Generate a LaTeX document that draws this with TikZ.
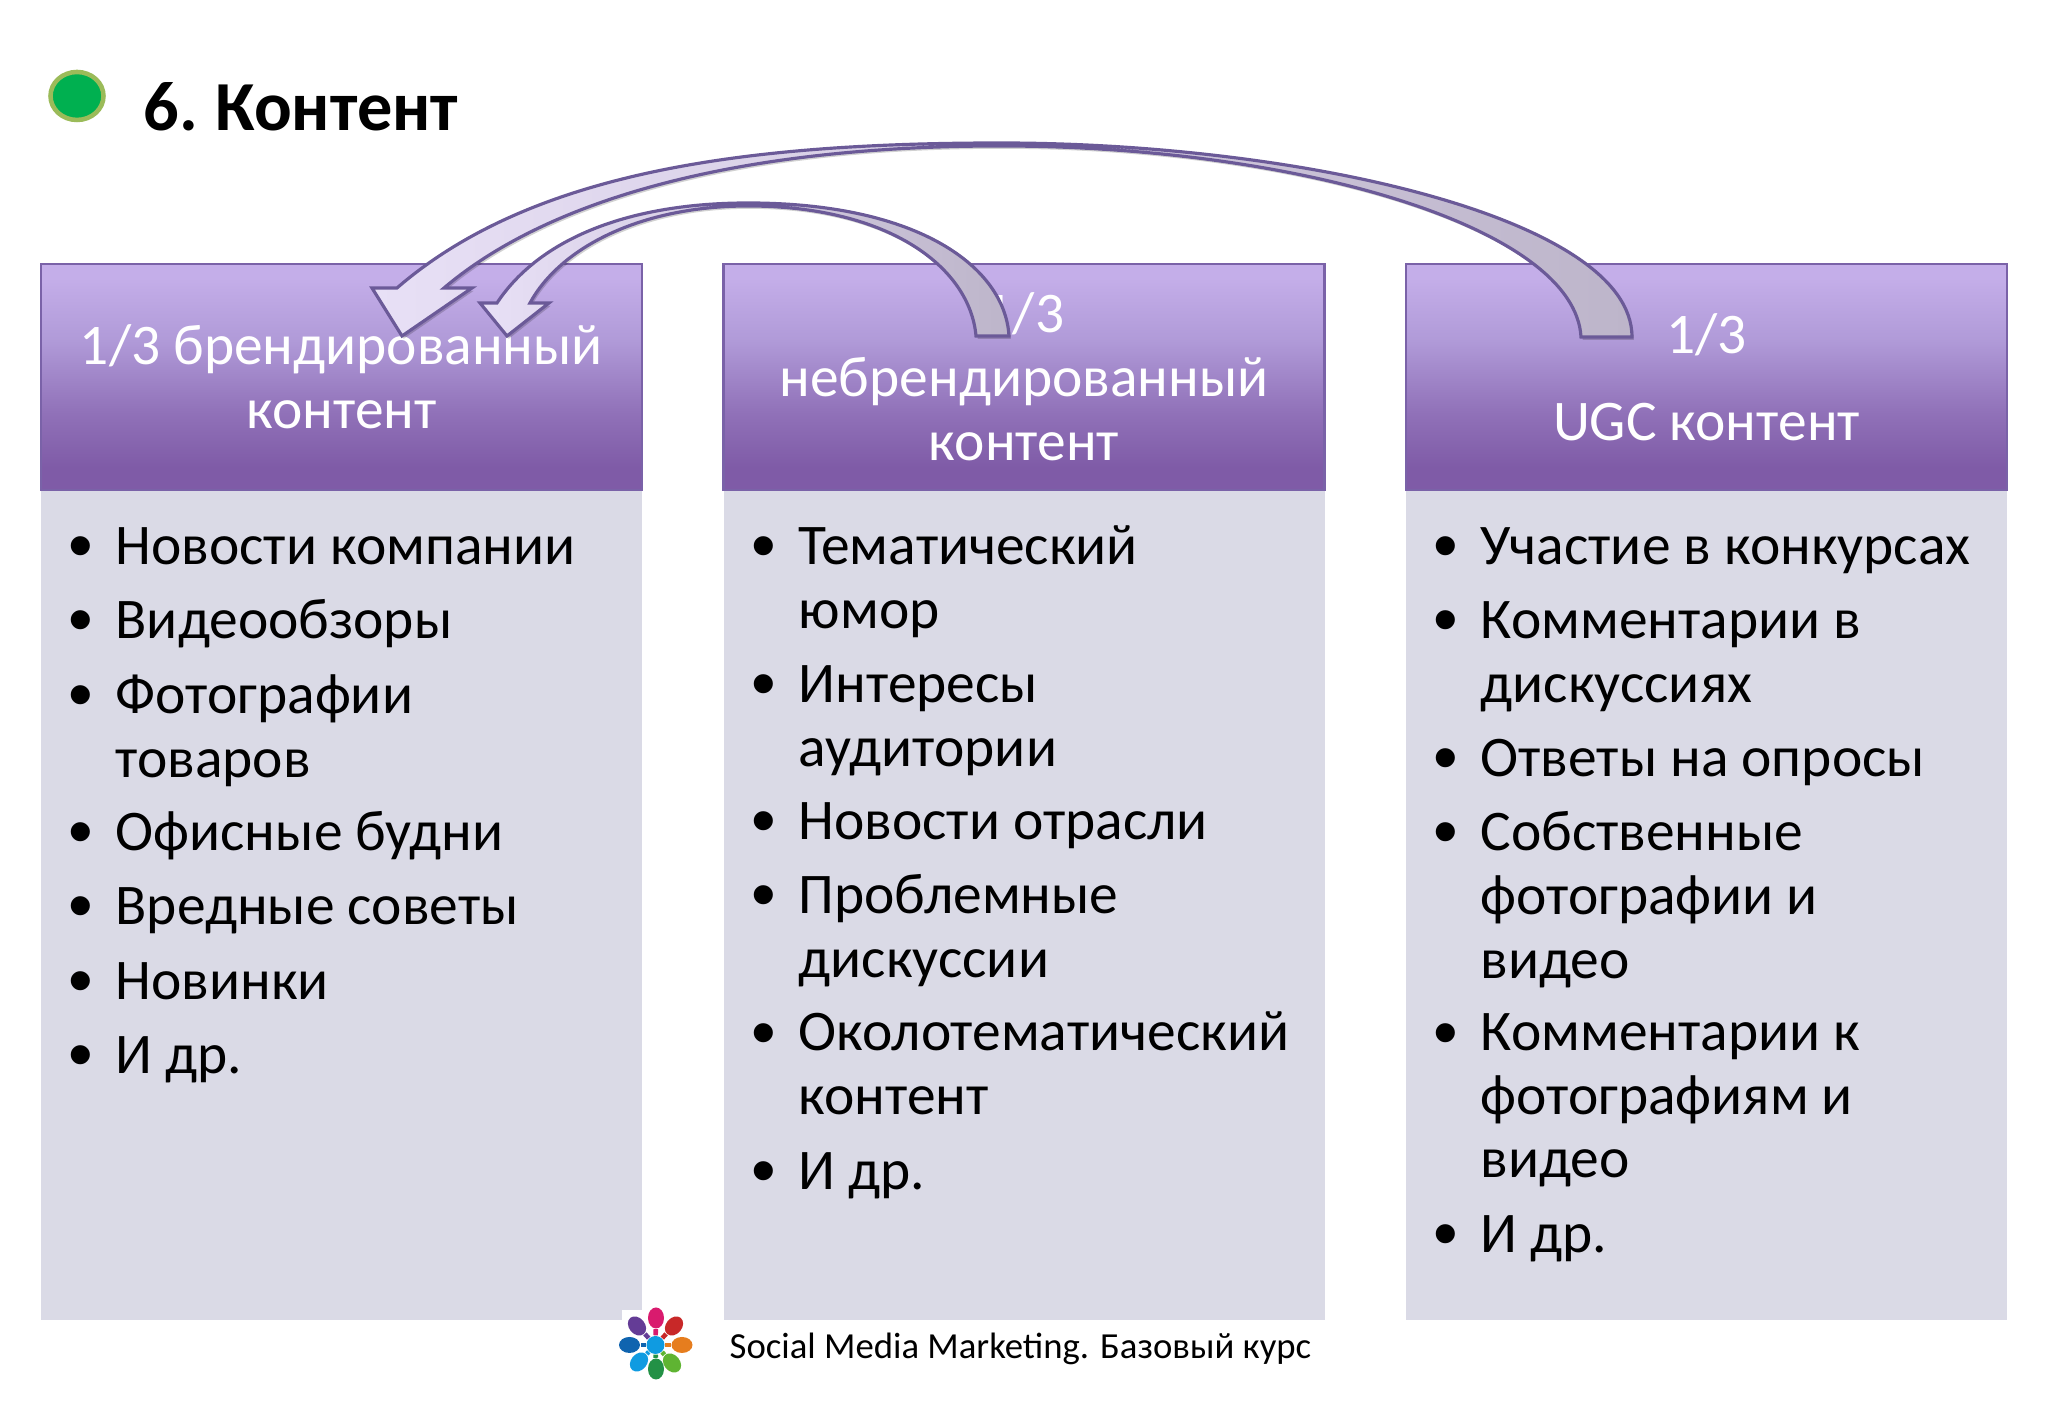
\documentclass[tikz,border=0pt]{standalone}
\usepackage{fontspec}
\setmainfont{Carlito}
\newfontfamily\bulletfont{Liberation Sans}
\usetikzlibrary{shapes,shadows}
\definecolor{headtop}{HTML}{C4AEE9}
\definecolor{headmid}{HTML}{B09AD8}
\definecolor{headlow}{HTML}{7F5BA7}
\definecolor{headline}{HTML}{7A62A8}
\definecolor{bodyfill}{HTML}{DADAE6}
\definecolor{ribbonline}{HTML}{6B5A98}
\definecolor{ribbonhead}{HTML}{E8E0F6}
\definecolor{ribbonmid}{HTML}{B8A8DA}
\definecolor{ribbontail}{HTML}{BDB5CA}
\definecolor{markfill}{HTML}{00B050}
\definecolor{markline}{HTML}{9BBB59}
\definecolor{petalpink}{HTML}{D91B6E}
\definecolor{petalred}{HTML}{C82828}
\definecolor{petalorange}{HTML}{E67D1E}
\definecolor{petallime}{HTML}{5FB432}
\definecolor{petalgreen}{HTML}{239146}
\definecolor{petalsky}{HTML}{0F9BE1}
\definecolor{petalblue}{HTML}{0F64AF}
\definecolor{petalviolet}{HTML}{643C96}
\pgfdeclareverticalshading{headershade}{100bp}{color(0bp)=(headlow); color(30bp)=(headlow); color(42bp)=(headlow!65!headmid); color(58bp)=(headmid); color(72bp)=(headtop); color(100bp)=(headtop)}
\tikzset{
  headerbox/.style={shape=rectangle,shading=headershade,draw=headline,line width=0.6pt,minimum width=6.01cm,minimum height=2.26cm,inner sep=0pt,align=center,text=white,font=\fontsize{16.35}{18.2}\selectfont},
  bodybox/.style={shape=rectangle,fill=bodyfill,minimum width=6.01cm,minimum height=8.3cm,inner sep=0pt},
  itemtext/.style={anchor=north west,inner sep=0pt,align=left,text=black,font=\fontsize{16.35}{18.2}\selectfont,execute at begin node=\strut},
  itemdot/.style={anchor=north,inner sep=0pt,yshift=-0.05cm,text=black,font=\bulletfont\fontsize{20}{18.2}\selectfont,execute at begin node=\strut},
  ribbon/.style={draw=ribbonline,line width=0.9pt,left color=ribbonhead,middle color=ribbonmid,right color=ribbontail,drop shadow={shadow xshift=0.5pt,shadow yshift=-0.8pt,fill=black,opacity=0.18}},
  petal/.style={shape=ellipse,fill=#1,minimum width=0.16cm,minimum height=0.21cm,inner sep=0pt},
  hub/.style={shape=circle,fill=petalsky,minimum size=0.18cm,inner sep=0pt},
  spoke/.style={draw=#1,line width=1.3pt},
  patch/.style={shape=rectangle,fill=white,inner sep=0pt}
}
\begin{document}
\begin{tikzpicture}
\useasboundingbox (0,0) rectangle (20.48,14.18);
\node[shape=ellipse,fill=markfill,draw=markline,line width=1.3pt,minimum width=0.53cm,minimum height=0.48cm,inner sep=0pt] (1) at (0.77,13.22) {};
\node[anchor=base west,inner sep=0pt,font=\fontsize{20}{23}\selectfont\bfseries] (2) at (1.43,12.87) {6.\hspace{-1.1pt} Контент};

\node[bodybox] (3) at (3.415,5.13) {};
\node[bodybox] (4) at (10.24,5.13) {};
\node[bodybox] (5) at (17.065,5.13) {};
\node[headerbox] (6) at (3.415,10.41) {1/3 брендированный\\контент};
\node[headerbox] (7) at (10.24,10.41) {1/3\\небрендированный\\контент};
\node[headerbox] (8) at (17.065,10.41) {1/3\\[6.6pt]UGC контент};

\node[itemdot] (10) at (0.81,8.99) {•};
\node[itemtext] (11) at (1.15,8.99) {Новости компании};
\node[itemdot] (12) at (0.81,8.25) {•};
\node[itemtext] (13) at (1.15,8.25) {Видеообзоры};
\node[itemdot] (14) at (0.81,7.50) {•};
\node[itemtext] (15) at (1.15,7.44) {Фотографии\\товаров};
\node[itemdot] (16) at (0.81,6.13) {•};
\node[itemtext] (17) at (1.15,6.13) {Офисные будни};
\node[itemdot] (18) at (0.81,5.39) {•};
\node[itemtext] (19) at (1.15,5.39) {Вредные советы};
\node[itemdot] (20) at (0.81,4.64) {•};
\node[itemtext] (21) at (1.15,4.64) {Новинки};
\node[itemdot] (22) at (0.81,3.90) {•};
\node[itemtext] (23) at (1.15,3.90) {И др.};

\node[itemdot] (24) at (7.64,8.99) {•};
\node[itemtext] (25) at (7.98,8.93) {Тематический\\юмор};
\node[itemdot] (26) at (7.64,7.61) {•};
\node[itemtext] (27) at (7.98,7.535) {Интересы\\аудитории};
\node[itemdot] (28) at (7.64,6.24) {•};
\node[itemtext] (29) at (7.98,6.24) {Новости отрасли};
\node[itemdot] (30) at (7.64,5.50) {•};
\node[itemtext] (31) at (7.98,5.44) {Проблемные\\дискуссии};
\node[itemdot] (32) at (7.64,4.12) {•};
\node[itemtext] (33) at (7.98,4.065) {Околотематический\\контент};
\node[itemdot] (34) at (7.64,2.74) {•};
\node[itemtext] (35) at (7.98,2.74) {И др.};

\node[itemdot] (36) at (14.46,8.99) {•};
\node[itemtext] (37) at (14.80,8.99) {Участие в конкурсах};
\node[itemdot] (38) at (14.46,8.25) {•};
\node[itemtext] (39) at (14.80,8.175) {Комментарии в\\дискуссиях};
\node[itemdot] (40) at (14.46,6.87) {•};
\node[itemtext] (41) at (14.80,6.87) {Ответы на опросы};
\node[itemdot] (42) at (14.46,6.13) {•};
\node[itemtext] (43) at (14.80,6.07) {Собственные\\фотографии и\\видео};
\node[itemdot] (44) at (14.46,4.12) {•};
\node[itemtext] (45) at (14.80,4.055) {Комментарии к\\фотографиям и\\видео};
\node[itemdot] (46) at (14.46,2.11) {•};
\node[itemtext] (47) at (14.80,2.11) {И др.};

\node[patch,minimum width=1.02cm,minimum height=1.08cm] (48) at (6.73,0.54) {};
\node[anchor=base west,inner sep=0pt,font=\fontsize{10.45}{12}\selectfont] (49) at (7.29,0.59) {Social Media Marketing. Базовый курс};

\node[hub] (50) at (6.555,0.73) {};
\node[petal=petalpink] (51) at (6.56,1.00) {};
\node[petal=petalred,rotate=-40] (52) at (6.74,0.92) {};
\node[petal=petalorange,rotate=90] (53) at (6.82,0.73) {};
\node[petal=petallime,rotate=40] (54) at (6.72,0.55) {};
\node[petal=petalgreen] (55) at (6.56,0.49) {};
\node[petal=petalsky,rotate=-40] (56) at (6.39,0.56) {};
\node[petal=petalblue,rotate=90] (57) at (6.295,0.73) {};
\node[petal=petalviolet,rotate=40] (58) at (6.37,0.92) {};
\draw[spoke=petalpink] (50) -- (51);
\draw[spoke=petalred] (50) -- (52);
\draw[spoke=petalorange] (50) -- (53);
\draw[spoke=petallime] (50) -- (54);
\draw[spoke=petalgreen] (50) -- (55);
\draw[spoke=petalsky] (50) -- (56);
\draw[spoke=petalblue] (50) -- (57);
\draw[spoke=petalviolet] (50) -- (58);

\coordinate (60) at (16.32,10.81);
\coordinate (61) at (15.81,10.81);
\coordinate (62) at (4.02,10.82);
\coordinate (63) at (10.09,10.82);
\coordinate (64) at (9.76,10.82);
\coordinate (65) at (5.07,10.82);
\path[ribbon] (60) .. controls (16.32,12.0) and (13.0,12.75) .. (10.0,12.75) .. controls (7.4,12.75) and (5.3,12.45) .. (3.97,11.30) -- (3.72,11.30) -- (62) -- (4.72,11.30) -- (4.44,11.30) .. controls (5.5,12.2) and (7.4,12.72) .. (10.0,12.72) .. controls (13.0,12.72) and (15.75,11.9) .. (61) -- cycle;
\path[ribbon] (63) .. controls (10.05,11.5) and (9.2,12.15) .. (7.48,12.15) .. controls (6.3,12.15) and (5.4,11.8) .. (4.97,11.15) -- (4.80,11.15) -- (65) -- (5.49,11.15) -- (5.30,11.15) .. controls (5.6,11.7) and (6.4,12.12) .. (7.48,12.12) .. controls (8.9,12.12) and (9.7,11.5) .. (64) -- cycle;
\end{tikzpicture}
\end{document}
